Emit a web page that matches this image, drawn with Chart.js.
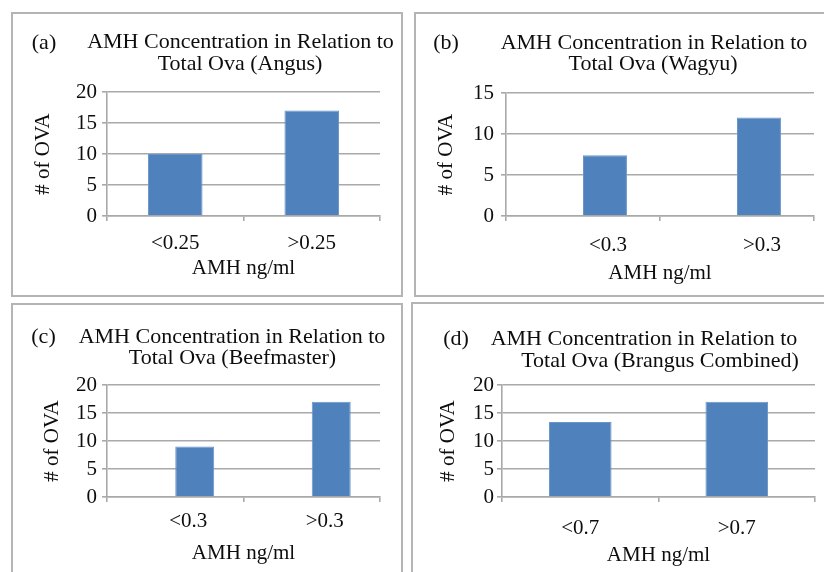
<!DOCTYPE html>
<html>
<head>
<meta charset="utf-8">
<title>AMH Concentration in Relation to Total Ova</title>
<script src="https://cdn.jsdelivr.net/npm/chart.js@4.4.0/dist/chart.umd.min.js"></script>
<style>
  html, body { margin: 0; padding: 0; background: #fff; }
  body { position: relative; width: 824px; height: 572px; overflow: hidden; }
  .panel { position: absolute; box-sizing: border-box; border: 2px solid #b4b4b4; }
  canvas { position: absolute; }
</style>
</head>
<body>
<div class="panel" style="left:11px;top:12px;width:392px;height:285px"></div>
<div class="panel" style="left:414px;top:12px;width:420px;height:285px"></div>
<div class="panel" style="left:11px;top:303px;width:392px;height:300px"></div>
<div class="panel" style="left:411px;top:302px;width:420px;height:300px"></div>

<canvas id="chartA" width="390" height="283" style="left:12px;top:13px"></canvas>
<canvas id="chartB" width="409" height="283" style="left:415px;top:13px"></canvas>
<canvas id="chartC" width="390" height="268" style="left:12px;top:304px"></canvas>
<canvas id="chartD" width="412" height="269" style="left:412px;top:303px"></canvas>

<script>
// Text shared by the four panels
const panelLabels = ['(a)', '(b)', '(c)', '(d)'];
const titleFirstLine = 'AMH Concentration in Relation to';
const titleSecondLines = [
    'Total Ova (Angus)',
    'Total Ova (Wagyu)',
    'Total Ova (Beefmaster)',
    'Total Ova (Brangus Combined)'
];
const xAxisTitle = 'AMH ng/ml';
const yAxisTitle = '# of OVA';

// (a) Angus
const angusCategories = ['<0.25', '>0.25'];
const angusOva = [10, 17];

// (b) Wagyu
const wagyuCategories = ['<0.3', '>0.3'];
const wagyuOva = [7.4, 12];

// (c) Beefmaster
const beefmasterCategories = ['<0.3', '>0.3'];
const beefmasterOva = [9, 17];

// (d) Brangus combined
const brangusCategories = ['<0.7', '>0.7'];
const brangusOva = [13.4, 17];

// placeholder series (b and c were plotted as the 2nd series of a clustered chart)
const emptySeries = [null, null];

// y axis ranges
const yMaxValues = [20, 15, 20, 20];
const yStep = 5;

const FONT_FAMILY = "'Liberation Serif', 'Times New Roman', serif";
const TEXT_COLOR = '#0d0d0d';
const GRID_COLOR = '#a9a9a9';
const BAR_COLOR = '#4f81bd';
const TITLE_SIZE = 22;
const LABEL_SIZE = 21;
const HALF_LINE = LABEL_SIZE * 1.2 / 2;

/**
 * Draws "(a)" plus the two title lines
 */
const panelTitlePlugin = {
    id: 'panelTitle',
    afterDraw(chart, args, opts) {
        const ctx = chart.ctx;
        ctx.save();
        ctx.fillStyle = TEXT_COLOR;
        ctx.textAlign = 'center';
        ctx.textBaseline = 'alphabetic';
        ctx.font = `${TITLE_SIZE}px ${FONT_FAMILY}`;
        opts.lines.forEach(line => ctx.fillText(line.text, line.x, line.y));
        ctx.restore();
    }
};

function buildChart(canvasId, index, categories, values, geo) {
    const datasets = [];
    if (geo.clustered) {
        datasets.push({ data: emptySeries, backgroundColor: BAR_COLOR });
    }
    datasets.push({
        data: values,
        backgroundColor: BAR_COLOR,
        borderColor: '#6b95c8',
        borderWidth: 1,
        borderSkipped: 'bottom'
    });

    const tickFont = { family: FONT_FAMILY, size: LABEL_SIZE };

    return new Chart(document.getElementById(canvasId), {
        type: 'bar',
        data: { labels: categories, datasets: datasets },
        options: {
            responsive: false,
            animation: false,
            devicePixelRatio: 1,
            categoryPercentage: geo.catPct,
            barPercentage: 1,
            layout: { padding: geo.padding },
            plugins: {
                legend: { display: false },
                tooltip: { enabled: false },
                panelTitle: {
                    lines: [
                        { text: panelLabels[index], x: geo.label[0], y: geo.label[1] },
                        { text: titleFirstLine, x: geo.line1[0], y: geo.line1[1] },
                        { text: titleSecondLines[index], x: geo.line2[0], y: geo.line2[1] }
                    ]
                }
            },
            scales: {
                x: {
                    grid: {
                        display: true,
                        drawOnChartArea: false,
                        drawTicks: true,
                        tickLength: 5,
                        color: GRID_COLOR,
                        lineWidth: 1.6
                    },
                    border: { display: true, color: GRID_COLOR, width: 1.6 },
                    ticks: {
                        color: TEXT_COLOR,
                        font: tickFont,
                        padding: geo.xTickPad,
                        labelOffset: geo.labelOffset,
                        maxRotation: 0,
                        autoSkip: false
                    },
                    title: {
                        display: true,
                        text: xAxisTitle,
                        color: TEXT_COLOR,
                        font: tickFont,
                        padding: 0
                    },
                    afterFit: (scale) => { scale.height = geo.xHeight; }
                },
                y: {
                    min: 0,
                    max: yMaxValues[index],
                    grid: {
                        color: GRID_COLOR,
                        lineWidth: 1.6,
                        drawTicks: true,
                        tickLength: 5
                    },
                    border: { display: true, color: GRID_COLOR, width: 1.6 },
                    ticks: {
                        stepSize: yStep,
                        autoSkip: false,
                        color: TEXT_COLOR,
                        font: tickFont,
                        padding: geo.yTickPad
                    },
                    title: {
                        display: true,
                        text: yAxisTitle,
                        color: TEXT_COLOR,
                        font: tickFont,
                        padding: 0
                    },
                    afterFit: (scale) => { scale.width = geo.yWidth; }
                }
            }
        },
        plugins: [panelTitlePlugin]
    });
}

buildChart('chartA', 0, angusCategories, angusOva, {
    clustered: false, catPct: 0.4, labelOffset: 0,
    padding: { left: 31 - HALF_LINE, right: 22, top: 79, bottom: 15.4 },
    yWidth: 95 - (31 - HALF_LINE), yTickPad: 5,
    xTickPad: 27 - HALF_LINE - 5, xHeight: 52 + HALF_LINE,
    label: [32, 36], line1: [228.5, 35], line2: [228, 57]
});

buildChart('chartB', 1, wagyuCategories, wagyuOva, {
    clustered: true, catPct: 0.571, labelOffset: 25,
    padding: { left: 31 - HALF_LINE, right: 10, top: 80, bottom: 10.4 },
    yWidth: 91 - (31 - HALF_LINE), yTickPad: 7,
    xTickPad: 29.5 - HALF_LINE - 5, xHeight: 57 + HALF_LINE,
    label: [31, 36], line1: [239, 36], line2: [238, 56.5]
});

buildChart('chartC', 2, beefmasterCategories, beefmasterOva, {
    clustered: true, catPct: 0.571, labelOffset: 13,
    padding: { left: 40 - HALF_LINE, right: 22, top: 81, bottom: 5.9 },
    yWidth: 95 - (40 - HALF_LINE), yTickPad: 5,
    xTickPad: 24 - HALF_LINE - 5, xHeight: 56.5 + HALF_LINE,
    label: [31.5, 39], line1: [220, 39.3], line2: [220.5, 59.8]
});

buildChart('chartD', 3, brangusCategories, brangusOva, {
    clustered: false, catPct: 0.4, labelOffset: 0,
    padding: { left: 36.5 - HALF_LINE, right: 9, top: 82, bottom: 4.4 },
    yWidth: 90 - (36.5 - HALF_LINE), yTickPad: 3,
    xTickPad: 31 - HALF_LINE - 5, xHeight: 58 + HALF_LINE,
    label: [44, 42], line1: [232, 42], line2: [248, 63.5]
});
</script>
</body>
</html>
